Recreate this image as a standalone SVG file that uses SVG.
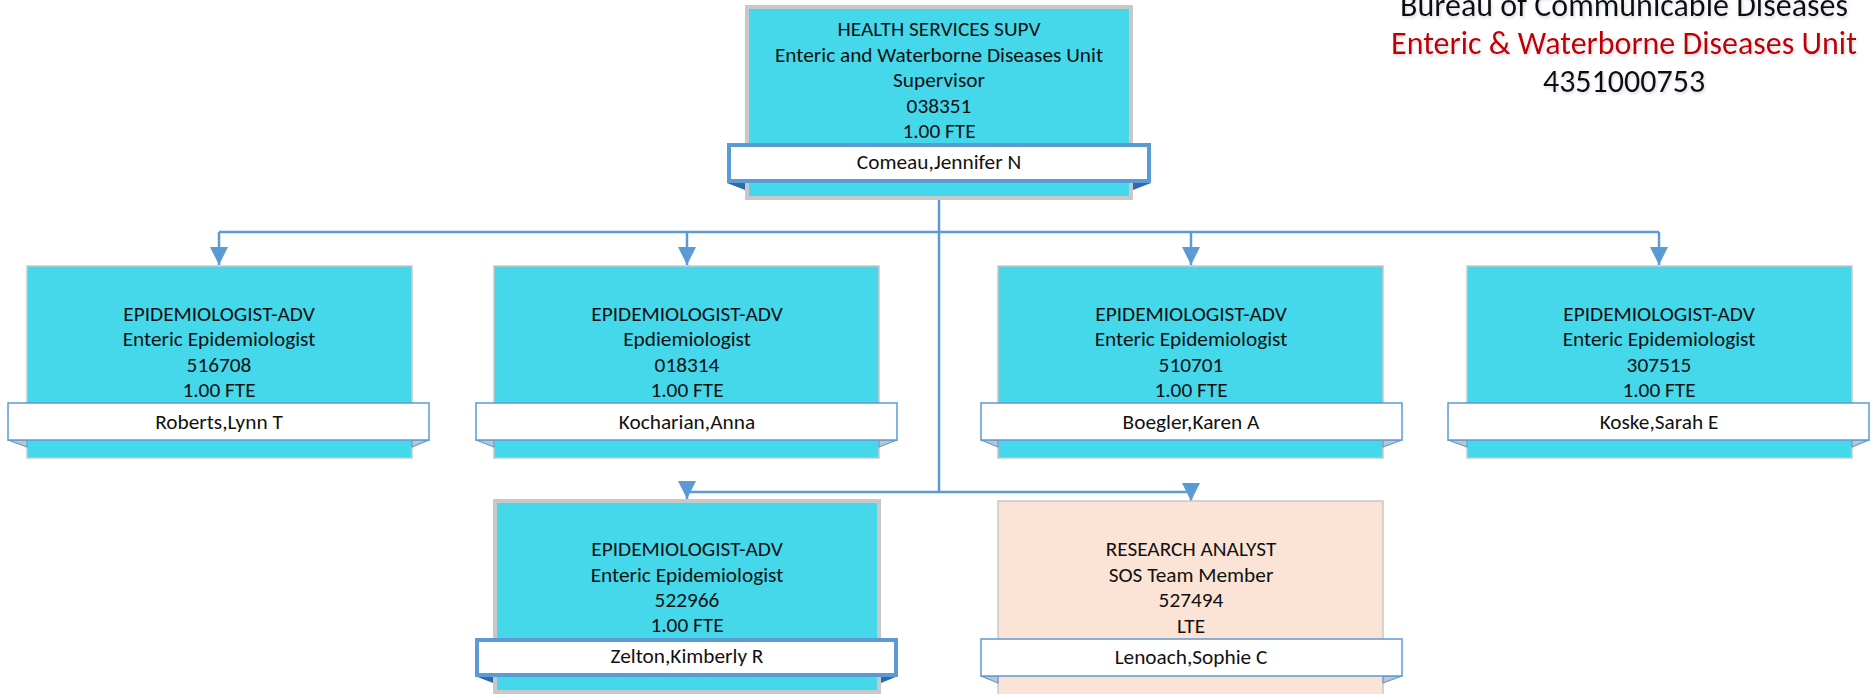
<svg xmlns="http://www.w3.org/2000/svg" width="1875" height="694" viewBox="0 0 1875 694">
<style>
.t{font-family:Carlito,Lato,"Liberation Sans",sans-serif;font-size:21.3px;fill:#111;text-anchor:middle}
.hdr{font-family:Carlito,Lato,"Liberation Sans",sans-serif;font-size:32px;fill:#111;text-anchor:middle;filter:url(#sh)}
.red{fill:#C00000}
.cy{fill:#45D7EA}
.pe{fill:#FBE4D5}
.thin{stroke:#C8C8C8;stroke-width:1.5}
.thick{stroke:#C8C8C8;stroke-width:4}
.bar{fill:#fff;stroke:#5B9BD5;stroke-width:1.5}
.barT{fill:#fff;stroke:#5B9BD5;stroke-width:4}
.fold{fill:#C4C4C4;stroke:#5B9BD5;stroke-width:1.2;stroke-linejoin:round}
.foldT{fill:#2E6AA6}
.con{fill:none;stroke:#5B9BD5;stroke-width:2.5}
</style>
<defs>
<marker id="arr" viewBox="0 0 18 18" markerWidth="18" markerHeight="18" refX="18" refY="9" orient="auto" markerUnits="userSpaceOnUse">
<path d="M0,0 L18,9 L0,18 z" fill="#5B9BD5"/>
</marker>
<filter id="sh" x="-5%" y="-30%" width="110%" height="160%">
<feDropShadow dx="1" dy="2" stdDeviation="1.5" flood-color="#7f8fa6" flood-opacity="0.35"/>
</filter>
</defs>
<rect width="1875" height="694" fill="#fff"/>

<g id="header">
<text class="hdr" x="1624" y="16">Bureau of Communicable Diseases</text>
<text class="hdr red" x="1624" y="54">Enteric &amp; Waterborne Diseases Unit</text>
<text class="hdr" x="1624" y="92">4351000753</text>
</g>

<g id="connectors">
<path class="con" d="M939,200 V492"/>
<path class="con" d="M219,232 H1659"/>
<path class="con" d="M219,232 V265" marker-end="url(#arr)"/>
<path class="con" d="M687,232 V265" marker-end="url(#arr)"/>
<path class="con" d="M1191,232 V265" marker-end="url(#arr)"/>
<path class="con" d="M1659,232 V265" marker-end="url(#arr)"/>
<path class="con" d="M687,492 H1191"/>
<path class="con" d="M687,492 V499" marker-end="url(#arr)"/>
<path class="con" d="M1191,492 V501" marker-end="url(#arr)"/>
</g>

<g id="node-038351">
<rect class="cy thick" x="747" y="7" width="384" height="191"/>
<polygon class="foldT" points="727,183 745,183 745,190"/>
<polygon class="foldT" points="1133,183 1151,183 1133,190"/>
<rect class="barT" x="729" y="145" width="420" height="36"/>
<text class="t" x="939" y="36">HEALTH SERVICES SUPV</text>
<text class="t" x="939" y="62">Enteric and Waterborne Diseases Unit</text>
<text class="t" x="939" y="87">Supervisor</text>
<text class="t" x="939" y="113">038351</text>
<text class="t" x="939" y="138">1.00 FTE</text>
<text class="t" x="939" y="169">Comeau,Jennifer N</text>
</g>

<g id="node-516708">
<rect class="cy thin" x="27" y="266" width="385" height="192"/>
<polygon class="fold" points="8,440 27,440 27,447"/>
<polygon class="fold" points="412,440 429,440 412,447"/>
<rect class="bar" x="8" y="403" width="421" height="37"/>
<text class="t" x="219" y="321">EPIDEMIOLOGIST-ADV</text>
<text class="t" x="219" y="346">Enteric Epidemiologist</text>
<text class="t" x="219" y="372">516708</text>
<text class="t" x="219" y="397">1.00 FTE</text>
<text class="t" x="219" y="429">Roberts,Lynn T</text>
</g>

<g id="node-018314">
<rect class="cy thin" x="494" y="266" width="385" height="192"/>
<polygon class="fold" points="476,440 494,440 494,447"/>
<polygon class="fold" points="879,440 897,440 879,447"/>
<rect class="bar" x="476" y="403" width="421" height="37"/>
<text class="t" x="687" y="321">EPIDEMIOLOGIST-ADV</text>
<text class="t" x="687" y="346">Epdiemiologist</text>
<text class="t" x="687" y="372">018314</text>
<text class="t" x="687" y="397">1.00 FTE</text>
<text class="t" x="687" y="429">Kocharian,Anna</text>
</g>

<g id="node-510701">
<rect class="cy thin" x="998" y="266" width="385" height="192"/>
<polygon class="fold" points="981,440 998,440 998,447"/>
<polygon class="fold" points="1383,440 1402,440 1383,447"/>
<rect class="bar" x="981" y="403" width="421" height="37"/>
<text class="t" x="1191" y="321">EPIDEMIOLOGIST-ADV</text>
<text class="t" x="1191" y="346">Enteric Epidemiologist</text>
<text class="t" x="1191" y="372">510701</text>
<text class="t" x="1191" y="397">1.00 FTE</text>
<text class="t" x="1191" y="429">Boegler,Karen A</text>
</g>

<g id="node-307515">
<rect class="cy thin" x="1467" y="266" width="385" height="192"/>
<polygon class="fold" points="1448,440 1467,440 1467,447"/>
<polygon class="fold" points="1852,440 1869,440 1852,447"/>
<rect class="bar" x="1448" y="403" width="421" height="37"/>
<text class="t" x="1659" y="321">EPIDEMIOLOGIST-ADV</text>
<text class="t" x="1659" y="346">Enteric Epidemiologist</text>
<text class="t" x="1659" y="372">307515</text>
<text class="t" x="1659" y="397">1.00 FTE</text>
<text class="t" x="1659" y="429">Koske,Sarah E</text>
</g>

<g id="node-522966">
<rect class="cy thick" x="495" y="501" width="384" height="191"/>
<polygon class="foldT" points="475,676 493,676 493,683"/>
<polygon class="foldT" points="881,676 898,676 881,683"/>
<rect class="barT" x="477" y="640" width="419" height="35"/>
<text class="t" x="687" y="556">EPIDEMIOLOGIST-ADV</text>
<text class="t" x="687" y="582">Enteric Epidemiologist</text>
<text class="t" x="687" y="607">522966</text>
<text class="t" x="687" y="632">1.00 FTE</text>
<text class="t" x="687" y="663">Zelton,Kimberly R</text>
</g>

<g id="node-527494">
<rect class="pe thin" x="998" y="501" width="385" height="196"/>
<polygon class="fold" points="981,676 998,676 998,683"/>
<polygon class="fold" points="1383,676 1402,676 1383,683"/>
<rect class="bar" x="981" y="639" width="421" height="37"/>
<text class="t" x="1191" y="556">RESEARCH ANALYST</text>
<text class="t" x="1191" y="582">SOS Team Member</text>
<text class="t" x="1191" y="607">527494</text>
<text class="t" x="1191" y="633">LTE</text>
<text class="t" x="1191" y="664">Lenoach,Sophie C</text>
</g>
</svg>
